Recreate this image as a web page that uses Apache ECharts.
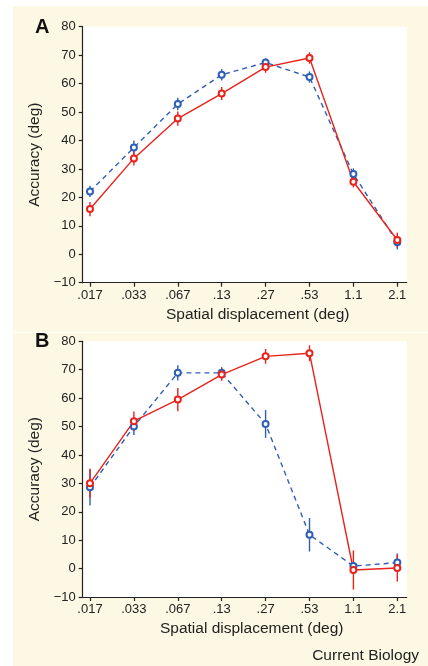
<!DOCTYPE html>
<html>
<head>
<meta charset="utf-8">
<script src="https://cdn.jsdelivr.net/npm/echarts@6/dist/echarts.min.js"></script>
<style>
  html, body { margin: 0; padding: 0; background: #fff; }
  #chart { width: 428px; height: 666px; }
</style>
</head>
<body>
<div id="chart"></div>
<script>
// spatial displacement (deg), equally spaced on a log scale
const xLabels = ['.017', '.033', '.067', '.13', '.27', '.53', '1.1', '2.1'];
const xPos = [0, 1, 2, 3, 4, 5, 6, 7];
const yTicks = [-10, 0, 10, 20, 30, 40, 50, 60, 70, 80];

// panel A
const aBlue = [22.1, 37.5, 52.8, 63.1, 67.4, 62.3, 28.2, 4.2];
const aBlueErr = [2.0, 2.5, 2.2, 2.0, 1.5, 2.0, 2.0, 2.5];
const aRed = [15.9, 33.7, 47.7, 56.5, 65.8, 69.0, 25.5, 5.0];
const aRedErr = [2.5, 2.5, 2.5, 2.3, 2.0, 2.0, 2.0, 2.6];

// panel B
const bBlue = [28.6, 50.0, 68.9, 68.9, 50.9, 11.9, 0.9, 2.1];
const bBlueErr = [6.4, 3.0, 2.7, 2.0, 4.9, 5.9, 1.5, 3.2];
const bRed = [30.0, 51.9, 59.5, 68.3, 74.7, 75.8, -0.5, 0.2];
const bRedErr = [5.1, 3.4, 4.1, 2.2, 2.6, 2.8, 6.9, 4.8];

const BLUE = '#2f5fb5';
const RED = '#e8231c';
const INK = '#222';
const FONT = 'Liberation Sans, Arial, sans-serif';

function xAxis(idx, padLeft) {
  return {
    type: 'value', gridIndex: idx, min: -0.166, max: 7.214,
    name: 'Spatial displacement (deg)', nameLocation: 'middle', nameGap: 24,
    nameTextStyle: { color: INK, fontSize: 15.5, fontFamily: FONT, padding: [0, 0, 0, padLeft] },
    axisLine: { show: true, onZero: false, lineStyle: { color: INK, width: 1.2 } },
    axisTick: { show: true, customValues: xPos, length: 4, lineStyle: { color: INK, width: 1.2 } },
    axisLabel: {
      customValues: xPos, margin: 6, color: INK, fontSize: 13, fontFamily: FONT,
      formatter: v => xLabels[Math.round(v)]
    },
    splitLine: { show: false }
  };
}

function yAxis(idx) {
  return {
    type: 'value', gridIndex: idx, min: -10, max: 80, interval: 10,
    name: 'Accuracy (deg)', nameLocation: 'middle', nameGap: 34, nameRotate: 90,
    nameTextStyle: { color: INK, fontSize: 15.5, fontFamily: FONT },
    axisLine: { show: true, onZero: false, lineStyle: { color: INK, width: 1.2 } },
    axisTick: { show: true, customValues: yTicks, length: 4, lineStyle: { color: INK, width: 1.2 } },
    axisLabel: {
      customValues: yTicks, margin: 7, color: INK, fontSize: 13, fontFamily: FONT,
      formatter: v => String(v).replace('-', '\u2212')
    },
    splitLine: { show: false }
  };
}

function lineSeries(idx, ys, color, dashed) {
  return {
    type: 'line', xAxisIndex: idx, yAxisIndex: idx,
    data: xPos.map((x, i) => [x, ys[i]]),
    symbol: 'emptyCircle', symbolSize: 6,
    lineStyle: { color: color, width: 1.4, type: dashed ? [5, 4] : 'solid' },
    itemStyle: { color: color, borderColor: color, borderWidth: 1.3 },
    emphasis: { disabled: true },
    animation: false
  };
}

function errSeries(idx, ys, errs, color) {
  return {
    type: 'custom', xAxisIndex: idx, yAxisIndex: idx,
    data: xPos.map((x, i) => [x, ys[i] - errs[i], ys[i] + errs[i]]),
    renderItem: function (params, api) {
      const lo = api.coord([api.value(0), api.value(1)]);
      const hi = api.coord([api.value(0), api.value(2)]);
      return {
        type: 'line',
        shape: { x1: lo[0], y1: lo[1], x2: hi[0], y2: hi[1] },
        style: { stroke: color, lineWidth: 1.4 }
      };
    },
    z: 3,
    animation: false
  };
}

const chart = echarts.init(document.getElementById('chart'), null, { renderer: 'canvas' });
chart.setOption({
  backgroundColor: '#fff',
  animation: false,
  graphic: [
    { type: 'rect', shape: { x: 13, y: 6, width: 415, height: 326 }, style: { fill: '#fdf8e4' }, z: -10 },
    { type: 'rect', shape: { x: 13, y: 333, width: 415, height: 333 }, style: { fill: '#fdf8e4' }, z: -10 },
    { type: 'text', left: 35, top: 17, style: { text: 'A', fontSize: 20, fontWeight: 'bold', fill: '#111', fontFamily: FONT } },
    { type: 'text', left: 35, top: 331, style: { text: 'B', fontSize: 20, fontWeight: 'bold', fill: '#111', fontFamily: FONT } },
    { type: 'text', right: 9, top: 648, style: { text: 'Current Biology', fontSize: 15.5, fill: INK, fontFamily: FONT } }
  ],
  grid: [
    { left: 82.7, top: 26.7, width: 324, height: 256, show: true, backgroundColor: '#fff', borderWidth: 0, outerBoundsMode: 'none' },
    { left: 82.7, top: 341.3, width: 324, height: 255.7, show: true, backgroundColor: '#fff', borderWidth: 0, outerBoundsMode: 'none' }
  ],
  xAxis: [xAxis(0, 26), xAxis(1, 14)],
  yAxis: [yAxis(0), yAxis(1)],
  series: [
    lineSeries(0, aBlue, BLUE, true),
    lineSeries(0, aRed, RED, false),
    errSeries(0, aBlue, aBlueErr, BLUE),
    errSeries(0, aRed, aRedErr, RED),
    lineSeries(1, bBlue, BLUE, true),
    lineSeries(1, bRed, RED, false),
    errSeries(1, bBlue, bBlueErr, BLUE),
    errSeries(1, bRed, bRedErr, RED)
  ]
});
</script>
</body>
</html>
